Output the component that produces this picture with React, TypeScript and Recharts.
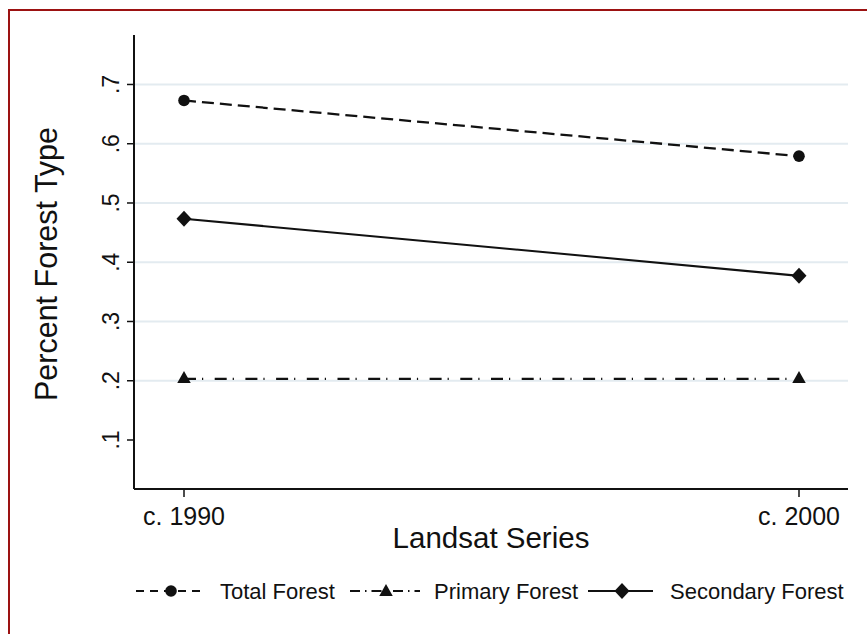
import React from 'react';
import { LineChart, Line, XAxis, YAxis, CartesianGrid, Customized, Label } from 'recharts';

const periods = ['c. 1990', 'c. 2000'];
const totalForest = [0.673, 0.579];
const primaryForest = [0.203, 0.203];
const secondaryForest = [0.4735, 0.377];
const yTicks = [0.1, 0.2, 0.3, 0.4, 0.5, 0.6, 0.7];
const gridValues = [0.2, 0.3, 0.4, 0.5, 0.6, 0.7];
const seriesNames = ['Total Forest', 'Primary Forest', 'Secondary Forest'];

const data = periods.map((p, i) => ({
  period: p,
  total: totalForest[i],
  primary: primaryForest[i],
  secondary: secondaryForest[i],
}));

const FONT = '"Liberation Sans", Arial, Helvetica, sans-serif';
const INK = '#111111';
const FRAME = '#9c1212';
const GRID = '#e3ebf0';
const DASH_TOTAL = '12 6';
const DASH_PRIMARY = '12 6 1.2 11.5';

const fmt = (v: number) => String(v).replace(/^0/, '');

function CircleMark({ cx, cy }: { cx: number; cy: number }) {
  return <circle cx={cx} cy={cy} r={5.8} fill={INK} />;
}
function TriangleMark({ cx, cy }: { cx: number; cy: number }) {
  const w = 13.5, h = 12;
  return (
    <polygon
      points={`${cx},${cy - (2 * h) / 3} ${cx - w / 2},${cy + h / 3} ${cx + w / 2},${cy + h / 3}`}
      fill={INK}
    />
  );
}
function DiamondMark({ cx, cy }: { cx: number; cy: number }) {
  return <polygon points={`${cx},${cy - 8} ${cx + 7.5},${cy} ${cx},${cy + 8} ${cx - 7.5},${cy}`} fill={INK} />;
}

function YTick(props: any) {
  const { x, y, payload } = props;
  return (
    <g transform={`translate(${x - 8},${y}) rotate(-90)`}>
      <text x={0} y={0} textAnchor="middle" fontSize={23} fontFamily={FONT} fill={INK}>
        {fmt(payload.value)}
      </text>
    </g>
  );
}

function YTitle(props: any) {
  const vb = props.viewBox || { x: 0, y: 24, width: 124, height: 454 };
  const cy = vb.y + vb.height / 2 + 2;
  return (
    <g transform={`translate(47,${cy}) rotate(-90)`}>
      <text x={0} y={0} textAnchor="middle" fontSize={30.5} fontFamily={FONT} fill={INK}>
        Percent Forest Type
      </text>
    </g>
  );
}

function XTitle(props: any) {
  const vb = props.viewBox || { x: 124, y: 478, width: 714, height: 70 };
  return (
    <text x={vb.x + vb.width / 2} y={vb.y + 59} textAnchor="middle" fontSize={29.5} fontFamily={FONT} fill={INK}>
      Landsat Series
    </text>
  );
}

function LegendLayer() {
  const y = 580;
  const ty = 587.5;
  const fs = 22;
  return (
    <g>
      <line x1={126} x2={193} y1={y} y2={y} stroke={INK} strokeWidth={2} strokeDasharray="8 6" />
      <CircleMark cx={161} cy={y} />
      <text x={210} y={ty} fontSize={fs} fontFamily={FONT} fill={INK}>{seriesNames[0]}</text>

      <line x1={340} x2={410} y1={y} y2={y} stroke={INK} strokeWidth={2} strokeDasharray="10 5 1.5 5" />
      <TriangleMark cx={376} cy={y + 1} />
      <text x={424} y={ty} fontSize={fs} fontFamily={FONT} fill={INK}>{seriesNames[1]}</text>

      <line x1={578} x2={643} y1={y} y2={y} stroke={INK} strokeWidth={2} />
      <DiamondMark cx={612} cy={y} />
      <text x={660} y={ty} fontSize={fs} fontFamily={FONT} fill={INK}>{seriesNames[2]}</text>
    </g>
  );
}

export default function App() {
  return (
    <div
      style={{
        position: 'fixed',
        left: 8,
        top: 9,
        width: 857,
        height: 623,
        overflow: 'hidden',
        borderLeft: `2px solid ${FRAME}`,
        borderTop: `2px solid ${FRAME}`,
        background: '#fff',
      }}
    >
      <LineChart width={840} height={600} data={data} margin={{ top: 24, right: 2, bottom: 52, left: 0 }}>
        <CartesianGrid vertical={false} horizontalValues={gridValues} stroke={GRID} strokeWidth={1.8} />
        <XAxis
          dataKey="period"
          type="category"
          padding={{ left: 50, right: 49 }}
          height={70}
          tickSize={8}
          tickMargin={10}
          axisLine={{ stroke: INK, strokeWidth: 2 }}
          tickLine={{ stroke: INK, strokeWidth: 1.5 }}
          tick={{ fontSize: 25, fill: INK, fontFamily: FONT }}
          interval={0}
        >
          <Label content={<XTitle />} />
        </XAxis>
        <YAxis
          type="number"
          domain={[0.0173, 0.7835]}
          ticks={yTicks}
          width={124}
          tickSize={7}
          tickMargin={0}
          axisLine={{ stroke: INK, strokeWidth: 2 }}
          tickLine={{ stroke: INK, strokeWidth: 1.5 }}
          tick={<YTick />}
          allowDataOverflow
          interval={0}
        >
          <Label content={<YTitle />} />
        </YAxis>
        <Line
          type="linear"
          dataKey="total"
          name={seriesNames[0]}
          stroke={INK}
          strokeWidth={2.3}
          strokeDasharray={DASH_TOTAL}
          isAnimationActive={false}
          dot={(p: any) => <CircleMark key={`t${p.index}`} cx={p.cx} cy={p.cy} />}
          activeDot={false}
        />
        <Line
          type="linear"
          dataKey="primary"
          name={seriesNames[1]}
          stroke={INK}
          strokeWidth={2.3}
          strokeDasharray={DASH_PRIMARY}
          isAnimationActive={false}
          dot={(p: any) => <TriangleMark key={`p${p.index}`} cx={p.cx} cy={p.cy} />}
          activeDot={false}
        />
        <Line
          type="linear"
          dataKey="secondary"
          name={seriesNames[2]}
          stroke={INK}
          strokeWidth={2.1}
          isAnimationActive={false}
          dot={(p: any) => <DiamondMark key={`s${p.index}`} cx={p.cx} cy={p.cy} />}
          activeDot={false}
        />
        <Customized component={LegendLayer} />
      </LineChart>
    </div>
  );
}
